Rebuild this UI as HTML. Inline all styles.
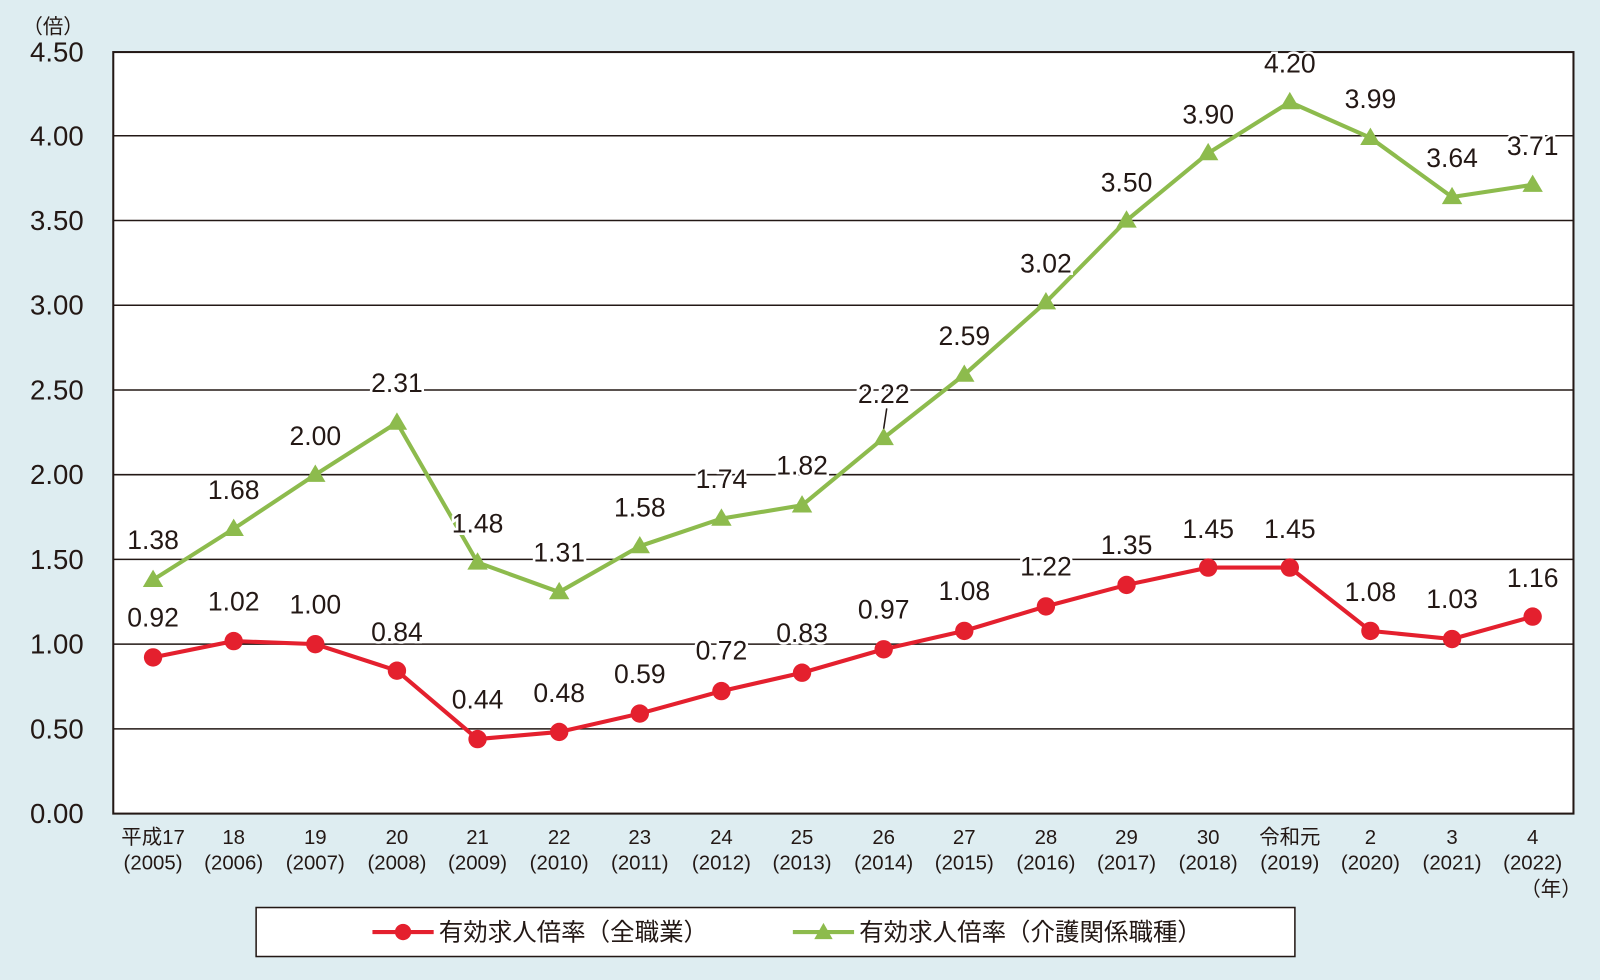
<!DOCTYPE html>
<html><head><meta charset="utf-8"><style>
html,body{margin:0;padding:0;background:#deedf1;}
svg{display:block;font-family:"Liberation Sans","Noto Sans CJK JP",sans-serif;}
</style></head><body>
<svg width="1600" height="980" viewBox="0 0 1568 960" preserveAspectRatio="none" xmlns="http://www.w3.org/2000/svg">
<rect x="0" y="0" width="1568" height="960" fill="#deedf1"/>
<rect x="111" y="51" width="1431" height="746" fill="#fff" stroke="#231815" stroke-width="2"/>
<g stroke="#231815" stroke-width="1.5">
<line x1="111" y1="133" x2="1542" y2="133"/><line x1="111" y1="216" x2="1542" y2="216"/>
<line x1="111" y1="299" x2="1542" y2="299"/><line x1="111" y1="382" x2="1542" y2="382"/>
<line x1="111" y1="465" x2="1542" y2="465"/><line x1="111" y1="548" x2="1542" y2="548"/>
<line x1="111" y1="631" x2="1542" y2="631"/><line x1="111" y1="714" x2="1542" y2="714"/>
</g>
<g fill="#231815" font-size="27" text-anchor="end" dominant-baseline="central">
<text x="82" y="51">4.50</text><text x="82" y="133">4.00</text><text x="82" y="216">3.50</text>
<text x="82" y="299">3.00</text><text x="82" y="382">2.50</text><text x="82" y="465">2.00</text>
<text x="82" y="548">1.50</text><text x="82" y="631">1.00</text><text x="82" y="714">0.50</text>
<text x="82" y="797">0.00</text>
</g>
<text x="52" y="27" font-size="20" fill="#231815" text-anchor="middle" dominant-baseline="central">（倍）</text>
<g fill="#231815" font-size="20" text-anchor="middle" dominant-baseline="central">
<text x="150" y="821">平成17</text><text x="150" y="846">(2005)</text>
<text x="229" y="821">18</text><text x="229" y="846">(2006)</text>
<text x="309" y="821">19</text><text x="309" y="846">(2007)</text>
<text x="389" y="821">20</text><text x="389" y="846">(2008)</text>
<text x="468" y="821">21</text><text x="468" y="846">(2009)</text>
<text x="548" y="821">22</text><text x="548" y="846">(2010)</text>
<text x="627" y="821">23</text><text x="627" y="846">(2011)</text>
<text x="707" y="821">24</text><text x="707" y="846">(2012)</text>
<text x="786" y="821">25</text><text x="786" y="846">(2013)</text>
<text x="866" y="821">26</text><text x="866" y="846">(2014)</text>
<text x="945" y="821">27</text><text x="945" y="846">(2015)</text>
<text x="1025" y="821">28</text><text x="1025" y="846">(2016)</text>
<text x="1104" y="821">29</text><text x="1104" y="846">(2017)</text>
<text x="1184" y="821">30</text><text x="1184" y="846">(2018)</text>
<text x="1264" y="821">令和元</text><text x="1264" y="846">(2019)</text>
<text x="1343" y="821">2</text><text x="1343" y="846">(2020)</text>
<text x="1423" y="821">3</text><text x="1423" y="846">(2021)</text>
<text x="1502" y="821">4</text><text x="1502" y="846">(2022)</text>
<text x="1520" y="872">（年）</text>
</g>
<polyline fill="none" stroke="#8dbb4d" stroke-width="4" points="150,568 229,518 309,465 389,414 468,551 548,580 627,535 707,508 786,495 866,429 945,367 1025,296 1104,216 1184,150 1264,100 1343,135 1423,193 1502,181"/>
<polyline fill="none" stroke="#e4202e" stroke-width="4" points="150,644 229,628 309,631 389,657 468,724 548,717 627,699 707,677 786,659 866,636 945,618 1025,594 1104,573 1184,556 1264,556 1343,618 1423,626 1502,604"/>
<g fill="#e4202e">
<circle cx="150" cy="644" r="9"/><circle cx="229" cy="628" r="9"/><circle cx="309" cy="631" r="9"/>
<circle cx="389" cy="657" r="9"/><circle cx="468" cy="724" r="9"/><circle cx="548" cy="717" r="9"/>
<circle cx="627" cy="699" r="9"/><circle cx="707" cy="677" r="9"/><circle cx="786" cy="659" r="9"/>
<circle cx="866" cy="636" r="9"/><circle cx="945" cy="618" r="9"/><circle cx="1025" cy="594" r="9"/>
<circle cx="1104" cy="573" r="9"/><circle cx="1184" cy="556" r="9"/><circle cx="1264" cy="556" r="9"/>
<circle cx="1343" cy="618" r="9"/><circle cx="1423" cy="626" r="9"/><circle cx="1502" cy="604" r="9"/>
</g>
<g fill="#8dbb4d">
<polygon points="150,558 160,575 140,575"/><polygon points="229,508 239,525 219,525"/><polygon points="309,455 319,472 299,472"/>
<polygon points="389,404 399,421 379,421"/><polygon points="468,541 478,558 458,558"/><polygon points="548,570 558,587 538,587"/>
<polygon points="627,525 637,542 617,542"/><polygon points="707,498 717,515 697,515"/><polygon points="786,485 796,502 776,502"/>
<polygon points="866,419 876,436 856,436"/><polygon points="945,357 955,374 935,374"/><polygon points="1025,286 1035,303 1015,303"/>
<polygon points="1104,206 1114,223 1094,223"/><polygon points="1184,140 1194,157 1174,157"/><polygon points="1264,90 1274,107 1254,107"/>
<polygon points="1343,125 1353,142 1333,142"/><polygon points="1423,183 1433,200 1413,200"/><polygon points="1502,171 1512,188 1492,188"/>
</g>
<line x1="869" y1="400" x2="866" y2="420" stroke="#231815" stroke-width="1.5"/>
<g fill="#231815" font-size="26" text-anchor="middle" dominant-baseline="central" stroke="#fff" stroke-width="5" paint-order="stroke">
<text x="150" y="529">1.38</text><text x="229" y="480">1.68</text><text x="309" y="427">2.00</text>
<text x="389" y="375">2.31</text><text x="468" y="513">1.48</text><text x="548" y="541">1.31</text>
<text x="627" y="497">1.58</text><text x="707" y="469">1.74</text><text x="786" y="456">1.82</text>
<text x="866" y="386">2.22</text><text x="945" y="329">2.59</text><text x="1025" y="258">3.02</text>
<text x="1104" y="179">3.50</text><text x="1184" y="112">3.90</text><text x="1264" y="62">4.20</text>
<text x="1343" y="97">3.99</text><text x="1423" y="155">3.64</text><text x="1502" y="143">3.71</text>
<text x="150" y="605">0.92</text><text x="229" y="589">1.02</text><text x="309" y="592">1.00</text>
<text x="389" y="619">0.84</text><text x="468" y="685">0.44</text><text x="548" y="679">0.48</text>
<text x="627" y="660">0.59</text><text x="707" y="637">0.72</text><text x="786" y="620">0.83</text>
<text x="866" y="597">0.97</text><text x="945" y="579">1.08</text><text x="1025" y="555">1.22</text>
<text x="1104" y="534">1.35</text><text x="1184" y="518">1.45</text><text x="1264" y="518">1.45</text>
<text x="1343" y="580">1.08</text><text x="1423" y="587">1.03</text><text x="1502" y="566">1.16</text>
</g>
<rect x="251" y="889" width="1018" height="48" fill="#fff" stroke="#231815" stroke-width="1.5"/>
<line x1="365" y1="913" x2="425" y2="913" stroke="#e4202e" stroke-width="4"/>
<circle cx="395" cy="913" r="8" fill="#e4202e"/>
<text x="430" y="914" font-size="24" fill="#231815" dominant-baseline="central">有効求人倍率（全職業）</text>
<line x1="777" y1="913" x2="837" y2="913" stroke="#8dbb4d" stroke-width="4"/>
<polygon points="807,904 816,920 798,920" fill="#8dbb4d"/>
<text x="842" y="914" font-size="24" fill="#231815" dominant-baseline="central">有効求人倍率（介護関係職種）</text>
</svg>
</body></html>
